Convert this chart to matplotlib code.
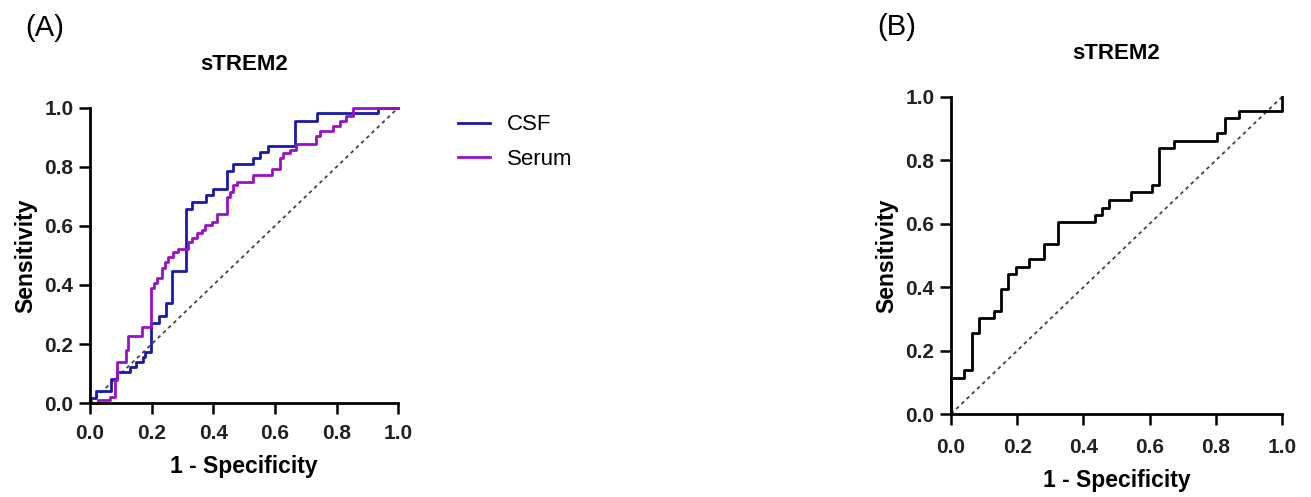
import matplotlib
matplotlib.use("Agg")
import matplotlib.pyplot as plt

plt.rcParams['font.family'] = ['Liberation Sans', 'DejaVu Sans']

# ---- data (fpr where the curve steps up, tpr after the step) ----
csf_fpr = [0.0, 0.0, 0.019, 0.067, 0.089, 0.130, 0.149, 0.173, 0.178, 0.198, 0.224, 0.245,
           0.265, 0.311, 0.330, 0.376, 0.398, 0.443, 0.465, 0.530, 0.551, 0.576, 0.665,
           0.735, 0.935, 1.0]
csf_tpr = [0.0, 0.016, 0.041, 0.081, 0.104, 0.123, 0.140, 0.157, 0.172, 0.270, 0.296, 0.338,
           0.449, 0.658, 0.680, 0.705, 0.724, 0.786, 0.809, 0.829, 0.852, 0.872, 0.957,
           0.982, 1.0, 1.0]

serum_fpr = [0.0, 0.027, 0.065, 0.081, 0.089, 0.117, 0.124, 0.170, 0.198, 0.208, 0.218, 0.235,
             0.243, 0.254, 0.270, 0.286, 0.319, 0.330, 0.346, 0.362, 0.373, 0.395, 0.411,
             0.443, 0.454, 0.465, 0.476, 0.530, 0.592, 0.616, 0.627, 0.649, 0.670, 0.733,
             0.746, 0.789, 0.811, 0.832, 0.854, 1.0]
serum_tpr = [0.0, 0.010, 0.021, 0.078, 0.140, 0.180, 0.228, 0.259, 0.389, 0.406, 0.425, 0.459,
             0.479, 0.496, 0.513, 0.522, 0.547, 0.560, 0.575, 0.586, 0.603, 0.615, 0.640,
             0.699, 0.716, 0.737, 0.748, 0.773, 0.793, 0.829, 0.846, 0.858, 0.877, 0.903,
             0.920, 0.937, 0.954, 0.971, 1.0, 1.0]

b_fpr = [0.0, 0.0, 0.040, 0.062, 0.086, 0.130, 0.150, 0.171, 0.196, 0.237, 0.282, 0.324,
         0.435, 0.455, 0.477, 0.544, 0.606, 0.628, 0.675, 0.805, 0.827, 0.871, 1.0, 1.0]
b_tpr = [0.0, 0.115, 0.139, 0.254, 0.302, 0.325, 0.394, 0.441, 0.465, 0.489, 0.535, 0.605,
         0.628, 0.651, 0.675, 0.699, 0.722, 0.840, 0.861, 0.885, 0.933, 0.956, 0.956, 1.0]

ticks = [0.0, 0.2, 0.4, 0.6, 0.8, 1.0]
tick_labels = ['0.0', '0.2', '0.4', '0.6', '0.8', '1.0']

fig = plt.figure(figsize=(13.11, 4.97), dpi=100)
axA = fig.add_axes([0.0687, 0.189, 0.235, 0.594])
axB = fig.add_axes([0.7254, 0.167, 0.2525, 0.638])


def style(ax, xpad):
    ax.set_xlim(0, 1)
    ax.set_ylim(0, 1)
    for s in ['top', 'right']:
        ax.spines[s].set_visible(False)
    for s in ['left', 'bottom']:
        ax.spines[s].set_linewidth(2.0)
    ax.set_xticks(ticks)
    ax.set_yticks(ticks)
    ax.set_xticklabels(tick_labels)
    ax.set_yticklabels(tick_labels)
    ax.tick_params(length=8, width=1.8, labelsize=15, labelcolor='#222222')
    ax.tick_params(axis='x', pad=xpad)
    ax.tick_params(axis='y', pad=4)
    for lab in ax.get_xticklabels() + ax.get_yticklabels():
        lab.set_fontweight('bold')
    ax.plot([0, 1], [0, 1], color='#444444', lw=1.3, ls=(0, (2, 2)), clip_on=False)
    ax.set_xlabel('1 - Specificity', fontsize=16.5, fontweight='bold', labelpad=9)
    ax.set_ylabel('Sensitivity', fontsize=16.5, fontweight='bold', labelpad=5)
    ax.set_title('sTREM2', fontsize=16, fontweight='bold', pad=27)


# panel A
style(axA, 7)
axA.plot(csf_fpr, csf_tpr, drawstyle='steps-post', color='#1a1aaa', lw=2.0,
         label='CSF', clip_on=False)
axA.plot(serum_fpr, serum_tpr, drawstyle='steps-post', color='#9a10c8', lw=2.0,
         label='Serum', clip_on=False)
axA.legend(loc='upper left', bbox_to_anchor=(0.334, 0.81), bbox_transform=fig.transFigure,
           frameon=False, fontsize=16, handlelength=1.45, handletextpad=0.75,
           labelspacing=0.6)

# panel B
style(axB, 9)
axB.plot(b_fpr, b_tpr, drawstyle='steps-post', color='black', lw=2.0, clip_on=False)

fig.text(0.034, 0.944, '(A)', fontsize=21, ha='center', va='center')
fig.text(0.684, 0.946, '(B)', fontsize=21, ha='center', va='center')

fig.savefig('out.png', dpi=100)
